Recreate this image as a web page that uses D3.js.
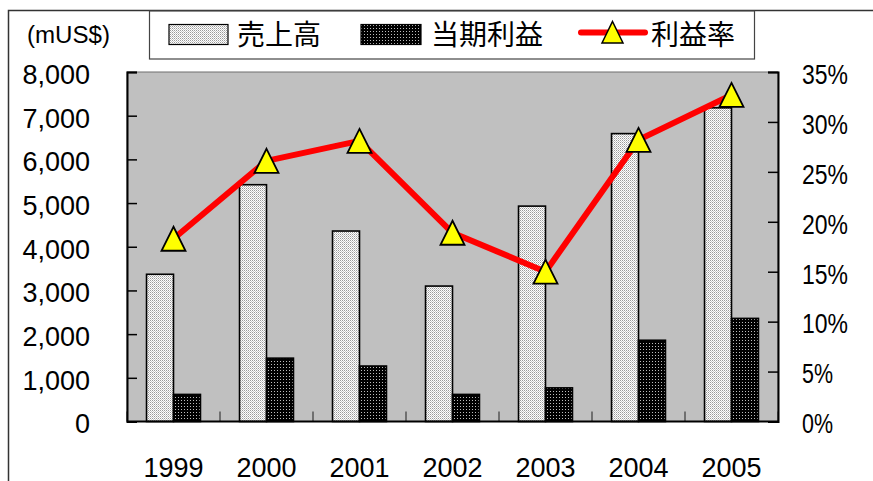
<!DOCTYPE html>
<html>
<head>
<meta charset="utf-8">
<script src="https://cdn.jsdelivr.net/npm/d3@7"></script>
<style>
  html, body { margin: 0; padding: 0; background: #fff; }
  svg { display: block; }
</style>
</head>
<body>
<svg id="chart" width="873" height="481"></svg>
<script>
// ---- data ----
const years = ["1999", "2000", "2001", "2002", "2003", "2004", "2005"];
const sales = [3370, 5420, 4360, 3100, 4930, 6590, 7180];       // 売上高 (mUS$)
const profit = [620, 1450, 1270, 620, 770, 1860, 2360];         // 当期利益 (mUS$)
const rate = [18.3, 26.1, 28.1, 18.9, 15.0, 28.2, 32.7];        // 利益率 (%)
const leftTicks = [0, 1000, 2000, 3000, 4000, 5000, 6000, 7000, 8000];
const rightTicks = [0, 5, 10, 15, 20, 25, 30, 35];
const seriesNames = ["売上高", "当期利益", "利益率"];
const unitLabel = "(mUS$)";

// ---- layout ----
const svg = d3.select("#chart");
const plot = { left: 127, right: 778, top: 72, bottom: 421.5 };
const numFont = "'Liberation Sans', Arial, sans-serif";
const cjkFont = "'Noto Sans CJK JP', 'Noto Sans', sans-serif";

const defs = svg.append("defs");
// sales pattern: light stipple
const p1 = defs.append("pattern").attr("id", "salesPat").attr("patternUnits", "userSpaceOnUse")
  .attr("width", 2).attr("height", 2);
p1.append("rect").attr("width", 2).attr("height", 2).attr("fill", "#ffffff");
p1.append("rect").attr("x", 0).attr("y", 0).attr("width", 1).attr("height", 1).attr("fill", "#9a9a9a");
p1.append("rect").attr("x", 1).attr("y", 1).attr("width", 1).attr("height", 1).attr("fill", "#c8c8c8");
// profit pattern: black with white dots
const p2 = defs.append("pattern").attr("id", "profitPat").attr("patternUnits", "userSpaceOnUse")
  .attr("width", 3).attr("height", 3);
p2.append("rect").attr("width", 3).attr("height", 3).attr("fill", "#000000");
p2.append("rect").attr("x", 1).attr("y", 1).attr("width", 1).attr("height", 1).attr("fill", "#bdbdbd");

// outer border
svg.append("path").attr("d", "M8.5,481 L8.5,10.5 L873,10.5")
  .attr("fill", "none").attr("stroke", "#333").attr("stroke-width", 1.5);

// scales
const x = d3.scaleBand().domain(years).range([plot.left, plot.right]).paddingInner(0.42).paddingOuter(0.21);
const xSub = d3.scaleBand().domain(["sales", "profit"]).range([0, x.bandwidth()]);
const yL = d3.scaleLinear().domain([0, 8000]).range([plot.bottom, plot.top]);
const yR = d3.scaleLinear().domain([0, 35]).range([plot.bottom, plot.top]);

// plot area
svg.append("rect").attr("x", plot.left).attr("y", plot.top)
  .attr("width", plot.right - plot.left).attr("height", plot.bottom - plot.top)
  .attr("fill", "#c0c0c0").attr("stroke", "#6e6e6e").attr("stroke-width", 1);

// category ticks (inside, at band boundaries)
const step = x.step();
const bounds = d3.range(years.length + 1).map(i => plot.left + i * step);
svg.append("g").selectAll("line").data(bounds).join("line")
  .attr("x1", d => d).attr("x2", d => d)
  .attr("y1", plot.bottom).attr("y2", plot.bottom - 10)
  .attr("stroke", "#555").attr("stroke-width", 1.5);

// bars
const g = svg.append("g");
g.selectAll("rect.sales").data(years).join("rect").attr("class", "sales")
  .attr("x", d => x(d) + xSub("sales"))
  .attr("y", (d, i) => yL(sales[i]))
  .attr("width", xSub.bandwidth())
  .attr("height", (d, i) => yL(0) - yL(sales[i]))
  .attr("fill", "url(#salesPat)").attr("stroke", "#000").attr("stroke-width", 1.6);
g.selectAll("rect.profit").data(years).join("rect").attr("class", "profit")
  .attr("x", d => x(d) + xSub("profit"))
  .attr("y", (d, i) => yL(profit[i]))
  .attr("width", xSub.bandwidth())
  .attr("height", (d, i) => yL(0) - yL(profit[i]))
  .attr("fill", "url(#profitPat)").attr("stroke", "#000").attr("stroke-width", 1.6);

// left axis
const axL = d3.axisLeft(yL).tickValues(leftTicks).tickSize(-10).tickPadding(37)
  .tickFormat(d3.format(","));
const gL = svg.append("g").attr("transform", `translate(${plot.left},0)`).call(axL);
gL.select(".domain").attr("stroke", "#000").attr("stroke-width", 2);
gL.selectAll(".tick line").attr("stroke", "#000").attr("stroke-width", 1.5);
gL.selectAll(".tick text").attr("font-family", numFont).attr("font-size", 27)
  .attr("fill", "#000").attr("dy", "0.42em");

// right axis
const axR = d3.axisRight(yR).tickValues(rightTicks).tickSize(-10).tickPadding(24)
  .tickFormat(d => d + "%");
const gR = svg.append("g").attr("transform", `translate(${plot.right},0)`).call(axR);
gR.select(".domain").attr("stroke", "#000").attr("stroke-width", 2);
gR.selectAll(".tick line").attr("stroke", "#000").attr("stroke-width", 1.5);
gR.selectAll(".tick text").attr("font-family", numFont).attr("font-size", 27)
  .attr("fill", "#000").attr("dy", "0.42em").attr("textLength", d => d >= 10 ? 46 : 31)
  .attr("lengthAdjust", "spacingAndGlyphs");

// bottom axis
svg.append("line").attr("x1", plot.left).attr("x2", plot.right)
  .attr("y1", plot.bottom).attr("y2", plot.bottom).attr("stroke", "#000").attr("stroke-width", 2);
const axB = d3.axisBottom(x).tickSize(0).tickPadding(0);
const gB = svg.append("g").attr("transform", `translate(0,${plot.bottom})`).call(axB);
gB.select(".domain").remove();
gB.selectAll(".tick text").attr("font-family", numFont).attr("font-size", 27)
  .attr("fill", "#000").attr("dy", 0).attr("y", 55);

// rate line
const cx = d => x(d) + x.bandwidth() / 2;
const line = d3.line().x((d, i) => cx(years[i])).y(d => yR(d));
svg.append("path").datum(rate).attr("d", line)
  .attr("fill", "none").attr("stroke", "#ff0000").attr("stroke-width", 6).attr("stroke-linejoin", "round");
const tri = (px, py) => `M${px},${py - 12} L${px + 12},${py + 12} L${px - 12},${py + 12} Z`;
svg.append("g").selectAll("path").data(rate).join("path")
  .attr("d", (d, i) => tri(cx(years[i]), yR(d) - 0))
  .attr("transform", "translate(0,0)")
  .attr("fill", "#ffff00").attr("stroke", "#000").attr("stroke-width", 1.8);

// unit label
svg.append("text").attr("x", 27).attr("y", 43).attr("font-family", numFont).attr("font-size", 23)
  .attr("fill", "#000").attr("textLength", 83).attr("lengthAdjust", "spacingAndGlyphs").text(unitLabel);

// legend
const lg = svg.append("g");
lg.append("rect").attr("x", 149.5).attr("y", 11).attr("width", 605).attr("height", 48)
  .attr("fill", "#fff").attr("stroke", "#444").attr("stroke-width", 1.2);
lg.append("rect").attr("x", 169).attr("y", 24.5).attr("width", 59).attr("height", 20)
  .attr("fill", "url(#salesPat)").attr("stroke", "#000").attr("stroke-width", 1.2);
lg.append("rect").attr("x", 361).attr("y", 24.5).attr("width", 60).attr("height", 20)
  .attr("fill", "url(#profitPat)").attr("stroke", "#000").attr("stroke-width", 1.2);
lg.append("line").attr("x1", 581).attr("x2", 645).attr("y1", 32.5).attr("y2", 32.5)
  .attr("stroke", "#ff0000").attr("stroke-width", 6).attr("stroke-linecap", "round");
lg.append("path").attr("d", "M612.5,21.5 L623,43 L602,43 Z")
  .attr("fill", "#ffff00").attr("stroke", "#000").attr("stroke-width", 1.5);
const legX = [237, 431, 651];
lg.selectAll("text").data(seriesNames).join("text")
  .attr("x", (d, i) => legX[i]).attr("y", 45)
  .attr("font-family", cjkFont).attr("font-size", 28).attr("fill", "#000")
  .text(d => d);
</script>
</body>
</html>
